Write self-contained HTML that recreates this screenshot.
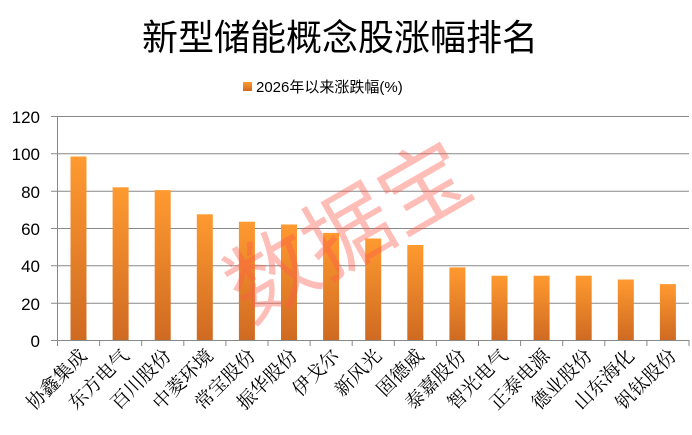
<!DOCTYPE html>
<html><head><meta charset="utf-8"><style>
body{margin:0;background:#fff;}
svg{display:block;}
</style></head><body>
<svg width="692" height="435" viewBox="0 0 692 435" xmlns="http://www.w3.org/2000/svg">
<defs>
<linearGradient id="g" x1="0" y1="0" x2="0" y2="1">
<stop offset="0" stop-color="#ff9a30"/><stop offset="1" stop-color="#cf6a22"/>
</linearGradient>
</defs>
<text x="340" y="50" text-anchor="middle" font-family="Liberation Sans,'Noto Sans CJK SC',sans-serif" font-size="36" fill="#000">新型储能概念股涨幅排名</text>
<rect x="243" y="82" width="9" height="9" fill="url(#g)"/>
<text x="256" y="92" font-family="Liberation Sans,'Noto Sans CJK SC',sans-serif" font-size="15" fill="#000">2026年以来涨跌幅(%)</text>
<g stroke="#888" stroke-width="1">
<line x1="51" y1="116.5" x2="689" y2="116.5"/>
<line x1="51" y1="153.8" x2="689" y2="153.8"/>
<line x1="51" y1="191.2" x2="689" y2="191.2"/>
<line x1="51" y1="228.5" x2="689" y2="228.5"/>
<line x1="51" y1="265.8" x2="689" y2="265.8"/>
<line x1="51" y1="303.2" x2="689" y2="303.2"/>
<line x1="51" y1="340.5" x2="689" y2="340.5"/>
<line x1="57.5" y1="116" x2="57.5" y2="346"/>
<line x1="99.6" y1="340" x2="99.6" y2="346"/><line x1="141.7" y1="340" x2="141.7" y2="346"/>
<line x1="183.8" y1="340" x2="183.8" y2="346"/><line x1="225.9" y1="340" x2="225.9" y2="346"/>
<line x1="268" y1="340" x2="268" y2="346"/><line x1="310.1" y1="340" x2="310.1" y2="346"/>
<line x1="352.2" y1="340" x2="352.2" y2="346"/><line x1="394.3" y1="340" x2="394.3" y2="346"/>
<line x1="436.4" y1="340" x2="436.4" y2="346"/><line x1="478.5" y1="340" x2="478.5" y2="346"/>
<line x1="520.6" y1="340" x2="520.6" y2="346"/><line x1="562.7" y1="340" x2="562.7" y2="346"/>
<line x1="604.8" y1="340" x2="604.8" y2="346"/><line x1="646.9" y1="340" x2="646.9" y2="346"/>
<line x1="689" y1="340" x2="689" y2="346"/>
</g>
<g font-family="Liberation Sans,sans-serif" font-size="17" fill="#000" text-anchor="end">
<text x="40" y="123">120</text><text x="40" y="160">100</text><text x="40" y="198">80</text>
<text x="40" y="235">60</text><text x="40" y="272">40</text><text x="40" y="310">20</text><text x="40" y="347">0</text>
</g>
<g fill="url(#g)">
<rect x="70.5" y="156.5" width="16" height="183.5"/>
<rect x="112.6" y="187.3" width="16" height="152.7"/>
<rect x="154.7" y="190.1" width="16" height="149.9"/>
<rect x="196.8" y="214.3" width="16" height="125.7"/>
<rect x="238.9" y="221.7" width="16" height="118.3"/>
<rect x="281" y="224.5" width="16" height="115.5"/>
<rect x="323.1" y="232.9" width="16" height="107.1"/>
<rect x="365.2" y="238.5" width="16" height="101.5"/>
<rect x="407.3" y="245" width="16" height="95"/>
<rect x="449.4" y="267.4" width="16" height="72.6"/>
<rect x="491.5" y="275.7" width="16" height="64.3"/>
<rect x="533.6" y="275.7" width="16" height="64.3"/>
<rect x="575.7" y="275.7" width="16" height="64.3"/>
<rect x="617.8" y="279.5" width="16" height="60.5"/>
<rect x="659.9" y="284.1" width="16" height="55.9"/>
</g>
<g font-family="'Noto Serif CJK SC',serif" font-size="19" fill="#000" text-anchor="end">
<text transform="translate(88,357) rotate(-45)">协鑫集成</text>
<text transform="translate(130.1,357) rotate(-45)">东方电气</text>
<text transform="translate(172.2,357) rotate(-45)">百川股份</text>
<text transform="translate(214.3,357) rotate(-45)">中菱环境</text>
<text transform="translate(256.4,357) rotate(-45)">常宝股份</text>
<text transform="translate(298.5,357) rotate(-45)">振华股份</text>
<text transform="translate(340.6,357) rotate(-45)">伊戈尔</text>
<text transform="translate(382.7,357) rotate(-45)">新风光</text>
<text transform="translate(424.8,357) rotate(-45)">固德威</text>
<text transform="translate(466.9,357) rotate(-45)">泰嘉股份</text>
<text transform="translate(509,357) rotate(-45)">智光电气</text>
<text transform="translate(551.1,357) rotate(-45)">正泰电源</text>
<text transform="translate(593.2,357) rotate(-45)">德业股份</text>
<text transform="translate(635.3,357) rotate(-45)">山东海化</text>
<text transform="translate(677.4,357) rotate(-45)">钒钛股份</text>
</g>
<text x="350" y="262" text-anchor="middle" font-family="'Noto Sans CJK SC',sans-serif" font-size="88" fill="#ff5a4a" fill-opacity="0.4" transform="rotate(-30 350 235)">数据宝</text>
</svg>
</body></html>
